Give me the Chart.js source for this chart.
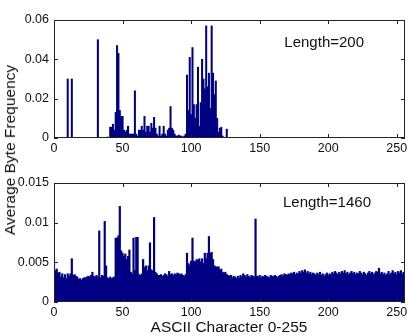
<!DOCTYPE html>
<html lang="en">
<head>
<meta charset="UTF-8">
<title>Average Byte Frequency</title>
<script src="https://cdn.jsdelivr.net/npm/chart.js"></script>
<style>
  body { margin: 0; background: #fff; font-family: Arial, "Liberation Sans", sans-serif; color: #111; }
  #wrap { position: relative; width: 411px; height: 336px; overflow: hidden; }
  .plot { position: absolute; left: 0; width: 411px; }
  #topPlot { top: 0; height: 160px; }
  #bottomPlot { top: 160px; height: 176px; }
  #ylabel { position: absolute; left: 10px; top: 150px; transform: translate(-50%, -50%) rotate(-90deg); white-space: nowrap; font-size: 15.5px; }
  #xlabel { position: absolute; left: 229px; top: 327px; transform: translate(-50%, -50%); white-space: nowrap; font-size: 15.5px; }
</style>
</head>
<body>
<div id="wrap">
  <div class="plot" id="topPlot"><canvas id="topChart"></canvas></div>
  <div class="plot" id="bottomPlot"><canvas id="bottomChart"></canvas></div>
  <div id="ylabel">Average Byte Frequency</div>
  <div id="xlabel">ASCII Character 0-255</div>
</div>
<script>
// byte values 0..255
const codes = Array.from({ length: 256 }, (_, i) => i);

const xTicks = [0, 50, 100, 150, 200, 250];
const topYTicks = [0, 0.02, 0.04, 0.06];
const bottomYTicks = [0, 0.005, 0.01, 0.015];

// Length=200
const freq200 = [
  0, 0, 0, 0, 0, 0, 0, 0, 0, 0, 0.03, 0, 0, 0.03, 0, 0,
  0, 0, 0, 0, 0, 0, 0, 0, 0, 0, 0, 0, 0, 0, 0, 0,
  0.05, 0, 0, 0, 0, 0, 0, 0.0005, 0, 0.0055, 0.0055, 0.007, 0.004, 0.013, 0.047, 0.043,
  0.014, 0.011, 0.011, 0.004, 0.003, 0.004, 0.006, 0.002, 0.002, 0.002, 0.002, 0.024, 0.002, 0.001, 0.004, 0.004,
  0.006, 0.004, 0.011, 0.003, 0.006, 0.006, 0.003, 0.0075, 0.005, 0.0105, 0.005, 0.002, 0.001, 0.006, 0.001, 0.002,
  0.006, 0.002, 0.001, 0.004, 0.005, 0.016, 0.005, 0.004, 0.002, 0.001, 0.001, 0.0015, 0.001, 0.001, 0.0005, 0.001,
  0.002, 0.032, 0.014, 0.041, 0.012, 0.046, 0.017, 0.010, 0.017, 0.036, 0.006, 0.018, 0.040, 0.030, 0.025, 0.057,
  0.026, 0.033, 0.015, 0.057, 0.033, 0.022, 0.029, 0.010, 0.003, 0.005, 0.0055, 0.001, 0, 0, 0.0045, 0,
  0, 0, 0, 0, 0, 0, 0, 0, 0, 0, 0, 0, 0, 0, 0, 0,
  0, 0, 0, 0, 0, 0, 0, 0, 0, 0, 0, 0, 0, 0, 0, 0,
  0, 0, 0, 0, 0, 0, 0, 0, 0, 0, 0, 0, 0, 0, 0, 0,
  0, 0, 0, 0, 0, 0, 0, 0, 0, 0, 0, 0, 0, 0, 0, 0,
  0, 0, 0, 0, 0, 0, 0, 0, 0, 0, 0, 0, 0, 0, 0, 0,
  0, 0, 0, 0, 0, 0, 0, 0, 0, 0, 0, 0, 0, 0, 0, 0,
  0, 0, 0, 0, 0, 0, 0, 0, 0, 0, 0, 0, 0, 0, 0, 0,
  0, 0, 0, 0, 0, 0, 0, 0, 0, 0, 0, 0, 0, 0, 0, 0
];

// Length=1460
const freq1460 = [
  0.0055, 0.0040, 0.0042, 0.0037, 0.0038, 0.0032, 0.0036, 0.0031, 0.0035, 0.0030, 0.0036, 0.0033, 0.0036, 0.0055, 0.0034, 0.0035,
  0.0033, 0.0032, 0.0029, 0.0030, 0.0028, 0.0030, 0.0031, 0.0031, 0.0032, 0.0033, 0.0032, 0.0034, 0.0038, 0.0033, 0.0032, 0.0034,
  0.0032, 0.0090, 0.0031, 0.0034, 0.0033, 0.0102, 0.0046, 0.0031, 0.0030, 0.0032, 0.0030, 0.0031, 0.0032, 0.0081, 0.0081, 0.0084,
  0.0121, 0.0065, 0.0062, 0.0058, 0.0061, 0.0054, 0.0058, 0.0066, 0.0038, 0.0036, 0.0081, 0.0040, 0.0082, 0.0082, 0.0035, 0.0034,
  0.0036, 0.0054, 0.0044, 0.0046, 0.0040, 0.0046, 0.0075, 0.0041, 0.0040, 0.0107, 0.0038, 0.0036, 0.0034, 0.0034, 0.0035, 0.0033,
  0.0034, 0.0036, 0.0035, 0.0033, 0.0039, 0.0035, 0.0036, 0.0034, 0.0036, 0.0035, 0.0037, 0.0036, 0.0035, 0.0036, 0.0034, 0.0033,
  0.0035, 0.0062, 0.0049, 0.0047, 0.0052, 0.0081, 0.0052, 0.0051, 0.0054, 0.0053, 0.0055, 0.0051, 0.0055, 0.0049, 0.0062, 0.0055,
  0.0062, 0.0083, 0.0062, 0.0063, 0.0054, 0.0046, 0.0045, 0.0044, 0.0045, 0.0041, 0.0042, 0.0038, 0.0037, 0.0038, 0.0035, 0.0034,
  0.0033, 0.0034, 0.0031, 0.0033, 0.0032, 0.0030, 0.0033, 0.0031, 0.0034, 0.0032, 0.0036, 0.0034, 0.0032, 0.0035, 0.0033, 0.0031,
  0.0034, 0.0033, 0.0032, 0.0105, 0.0033, 0.0032, 0.0034, 0.0031, 0.0033, 0.0032, 0.0034, 0.0033, 0.0032, 0.0031, 0.0034, 0.0033,
  0.0032, 0.0034, 0.0033, 0.0031, 0.0033, 0.0034, 0.0035, 0.0033, 0.0036, 0.0035, 0.0034, 0.0036, 0.0035, 0.0037, 0.0036, 0.0038,
  0.0035, 0.0037, 0.0036, 0.0039, 0.0037, 0.0040, 0.0038, 0.0041, 0.0037, 0.0039, 0.0036, 0.0038, 0.0035, 0.0037, 0.0036, 0.0034,
  0.0037, 0.0035, 0.0038, 0.0034, 0.0036, 0.0033, 0.0035, 0.0037, 0.0034, 0.0036, 0.0035, 0.0038, 0.0036, 0.0039, 0.0037, 0.0035,
  0.0038, 0.0036, 0.0039, 0.0037, 0.0040, 0.0036, 0.0038, 0.0035, 0.0037, 0.0039, 0.0036, 0.0038, 0.0035, 0.0037, 0.0036, 0.0039,
  0.0037, 0.0035, 0.0038, 0.0036, 0.0034, 0.0037, 0.0039, 0.0036, 0.0038, 0.0035, 0.0037, 0.0039, 0.0038, 0.0043, 0.0036, 0.0038,
  0.0035, 0.0037, 0.0034, 0.0036, 0.0039, 0.0035, 0.0037, 0.0040, 0.0036, 0.0038, 0.0035, 0.0039, 0.0037, 0.0040, 0.0036, 0.0038
];

const FONT = 'Arial, "Liberation Sans", sans-serif';
const BAR = '#000084';

// matlab style box with inward ticks, plus the "Length=..." note
const boxPlugin = {
  id: 'box',
  afterDraw(chart, args, opts) {
    const { ctx, chartArea: a, scales: { x, y } } = chart;
    ctx.save();
    ctx.strokeStyle = '#222';
    ctx.lineWidth = 1;
    ctx.strokeRect(a.left + 0.5, a.top + 0.5, a.right - a.left - 1, a.bottom - a.top - 1);
    ctx.beginPath();
    x.ticks.forEach(t => {
      const px = Math.round(x.getPixelForValue(t.value)) + 0.5;
      ctx.moveTo(px, a.top); ctx.lineTo(px, a.top + 4);
      ctx.moveTo(px, a.bottom); ctx.lineTo(px, a.bottom - 4);
    });
    y.ticks.forEach(t => {
      const py = Math.round(y.getPixelForValue(t.value)) + 0.5;
      ctx.moveTo(a.left, py); ctx.lineTo(a.left + 4, py);
      ctx.moveTo(a.right, py); ctx.lineTo(a.right - 4, py);
    });
    ctx.stroke();
    ctx.fillStyle = '#111';
    ctx.font = '15px ' + FONT;
    ctx.textBaseline = 'middle';
    ctx.fillText(opts.note, x.getPixelForValue(opts.noteX), y.getPixelForValue(opts.noteY));
    ctx.restore();
  }
};

function makeChart(id, values, yTicks, opt) {
  return new Chart(document.getElementById(id), {
    type: 'bar',
    data: {
      labels: codes,
      datasets: [{
        data: values,
        backgroundColor: BAR,
        borderWidth: 0,
        categoryPercentage: 1,
        barPercentage: opt.barPct
      }]
    },
    options: {
      responsive: true,
      maintainAspectRatio: false,
      animation: false,
      layout: { padding: { left: 0, right: 6, top: opt.padTop, bottom: 0 } },
      plugins: {
        legend: { display: false },
        tooltip: { enabled: false },
        box: { note: opt.note, noteX: opt.noteX, noteY: opt.noteY }
      },
      scales: {
        x: {
          type: 'linear',
          min: 0,
          max: 256,
          offset: false,
          grid: { display: false, drawTicks: false },
          border: { display: false },
          afterBuildTicks: s => { s.ticks = xTicks.map(v => ({ value: v })); },
          afterFit: s => { s.height = opt.xHeight; },
          ticks: { color: '#111', font: { family: FONT, size: 12.5 }, padding: 3, maxRotation: 0 }
        },
        y: {
          min: yTicks[0],
          max: yTicks[yTicks.length - 1],
          grid: { display: false, drawTicks: false },
          border: { display: false },
          afterBuildTicks: s => { s.ticks = yTicks.map(v => ({ value: v })); },
          afterFit: s => { s.width = 54; },
          ticks: {
            color: '#111',
            font: { family: FONT, size: 12.5 },
            padding: 5,
            callback: v => String(v)
          }
        }
      }
    },
    plugins: [boxPlugin]
  });
}

makeChart('topChart', freq200, topYTicks, {
  barPct: 1.0, padTop: 20, xHeight: 22,
  note: 'Length=200', noteX: 168, noteY: 0.0483
});
makeChart('bottomChart', freq1460, bottomYTicks, {
  barPct: 1.6, padTop: 23, xHeight: 34,
  note: 'Length=1460', noteX: 167, noteY: 0.01245
});
</script>
</body>
</html>
